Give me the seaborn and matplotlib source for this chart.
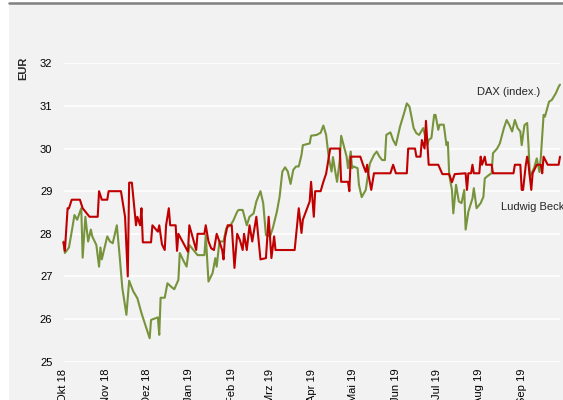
import pandas as pd
import numpy as np
import matplotlib
matplotlib.use("Agg")
import matplotlib.pyplot as plt
from matplotlib.patches import Rectangle
from matplotlib.lines import Line2D
import seaborn as sns

# Tage seit 1. Okt 2018 und Kurse (EUR)
start = pd.Timestamp("2018-10-01")

beck_days = [0, 1, 3, 4, 6, 12, 14, 19, 25, 26, 28, 32, 33, 42, 45, 47, 48, 50, 53, 54,
             56, 57, 58, 64, 65, 69, 70, 72, 74, 75, 77, 78, 82, 83, 84, 87, 91, 92, 94, 97,
             98, 103, 104, 106, 108, 110, 112, 114, 116, 117, 118, 120, 123, 125, 127, 129, 131, 132, 134, 136,
             138, 140, 141, 144, 148, 150, 152, 154, 155, 169, 172, 174, 175, 180, 181, 183, 184, 188, 190, 192,
             195, 202, 203, 208, 209, 210, 217, 219, 221, 222, 223, 225, 227, 239, 241, 243, 251, 252, 257, 258,
             261, 262, 264, 265, 267, 274, 277, 282, 284, 286, 294, 295, 296, 298, 299, 300, 304, 305, 306, 308,
             309, 313, 314, 329, 330, 334, 335, 336, 338, 339, 340, 342, 343, 346, 349, 350, 351, 354, 362, 363]
beck_values = [27.8, 27.6, 28.6, 28.6, 28.8, 28.8, 28.6, 28.4, 28.4, 29.0, 28.8, 28.8, 29.0, 29.0, 28.4, 27.0, 29.2, 29.2, 28.2, 28.4,
               28.2, 28.6, 27.8, 27.8, 28.2, 28.05, 28.2, 27.75, 27.62, 28.2, 28.6, 28.2, 28.2, 27.6, 28.0, 27.82, 27.58, 28.2, 27.97, 27.62,
               28.0, 28.0, 28.2, 27.82, 27.66, 27.62, 28.0, 27.82, 27.62, 27.4, 27.9, 28.2, 28.2, 27.2, 28.0, 27.85, 27.62, 28.0, 27.62, 28.2,
               27.82, 28.2, 28.4, 27.4, 27.43, 28.4, 27.43, 27.94, 27.62, 27.62, 28.6, 28.02, 28.33, 28.76, 29.22, 28.4, 29.0, 29.0, 29.22, 29.41,
               30.0, 30.0, 29.22, 29.22, 29.0, 29.81, 29.81, 29.62, 29.45, 29.62, 29.38, 29.03, 29.42, 29.42, 29.62, 29.42, 29.42, 30.0, 30.0, 29.81,
               29.81, 30.2, 30.0, 30.65, 29.62, 29.62, 29.4, 29.4, 29.21, 29.4, 29.42, 29.03, 29.42, 29.42, 29.62, 29.42, 29.42, 29.81, 29.62, 29.81,
               29.62, 29.62, 29.42, 29.42, 29.62, 29.62, 29.03, 29.03, 29.62, 29.81, 29.62, 29.03, 29.42, 29.62, 29.62, 29.42, 29.81, 29.62, 29.62, 29.81]

dax_days = [0, 1, 4, 6, 8, 10, 13, 14, 16, 18, 20, 21, 24, 26, 27, 28, 32, 34, 36, 39,
            41, 43, 46, 48, 51, 54, 57, 63, 64, 69, 70, 71, 74, 76, 79, 81, 84, 85, 88, 90,
            92, 95, 98, 103, 104, 106, 109, 111, 112, 114, 117, 119, 122, 124, 127, 128, 131, 134, 136, 139,
            141, 144, 146, 148, 151, 153, 156, 158, 160, 162, 164, 166, 168, 170, 172, 174, 175, 180, 181, 185,
            188, 190, 192, 194, 196, 197, 199, 200, 202, 203, 205, 207, 208, 210, 211, 212, 215, 216, 218, 221,
            223, 224, 227, 229, 231, 233, 235, 236, 239, 241, 243, 246, 249, 251, 253, 256, 258, 260, 263, 266,
            267, 269, 271, 272, 274, 275, 278, 280, 281, 282, 284, 285, 287, 289, 291, 293, 294, 296, 299, 300,
            302, 305, 307, 308, 311, 313, 314, 317, 319, 322, 324, 326, 328, 330, 332, 334, 335, 337, 339, 340,
            341, 344, 346, 348, 349, 351, 352, 355, 357, 360, 362, 363]
dax_values = [27.82, 27.55, 27.68, 28.05, 28.44, 28.33, 28.6, 27.44, 28.4, 27.82, 28.1, 27.94, 27.74, 27.23, 27.68, 27.4, 27.94, 27.82, 27.78, 28.2,
              27.5, 26.73, 26.1, 26.9, 26.65, 26.49, 26.14, 25.55, 25.98, 26.04, 25.63, 26.5, 26.5, 26.84, 26.75, 26.7, 26.92, 27.55, 27.35, 27.23,
              27.74, 27.62, 27.5, 27.5, 27.97, 26.88, 27.08, 27.43, 27.23, 27.82, 27.82, 28.13, 28.2, 28.3, 28.52, 28.56, 28.56, 28.2, 28.4, 28.48,
              28.76, 29.0, 28.72, 27.97, 27.94, 28.13, 28.52, 28.87, 29.46, 29.56, 29.46, 29.17, 29.5, 29.58, 29.58, 29.85, 30.08, 30.12, 30.3, 30.32,
              30.37, 30.54, 30.32, 29.77, 29.46, 29.8, 29.4, 29.22, 29.73, 30.3, 30.05, 29.81, 29.54, 29.93, 29.54, 29.58, 29.54, 29.15, 28.86, 29.03,
              29.46, 29.65, 29.85, 29.93, 29.81, 29.73, 29.73, 30.32, 30.38, 30.2, 30.08, 30.51, 30.83, 31.06, 30.98, 30.48, 30.36, 30.32, 30.48, 30.08,
              30.2, 30.25, 30.79, 30.79, 30.44, 30.56, 30.56, 30.08, 30.15, 29.38, 29.03, 28.48, 29.15, 28.76, 28.72, 29.03, 28.1, 28.52, 28.83, 29.07,
              28.6, 28.72, 28.87, 29.3, 29.38, 29.42, 29.89, 30.0, 30.12, 30.48, 30.67, 30.55, 30.4, 30.67, 30.48, 30.4, 30.08, 30.55, 30.6, 30.05,
              29.34, 29.54, 29.77, 29.45, 29.8, 30.79, 30.75, 31.1, 31.14, 31.3, 31.45, 31.5]

month_labels = ["Okt 18", "Nov 18", "Dez 18", "Jan 19", "Feb 19", "Mrz 19",
                "Apr 19", "Mai 19", "Jun 19", "Jul 19", "Aug 19", "Sep 19"]
y_ticks = [25, 26, 27, 28, 29, 30, 31, 32]

df = pd.concat([
    pd.DataFrame({"Datum": start + pd.to_timedelta(beck_days, unit="D"),
                  "Kurs": beck_values, "Serie": "Ludwig Beck"}),
    pd.DataFrame({"Datum": start + pd.to_timedelta(dax_days, unit="D"),
                  "Kurs": dax_values, "Serie": "DAX (index.)"}),
])

gris = "#f2f2f2"
sns.set_style("whitegrid", {"axes.facecolor": gris, "grid.color": "white",
                            "axes.edgecolor": gris})
plt.rcParams["font.family"] = ["Liberation Sans", "DejaVu Sans"]

fig = plt.figure(figsize=(5.63, 4.0), dpi=100)
fig.patches.append(Rectangle((9 / 563, 0), 1, 1 - 4 / 400, transform=fig.transFigure,
                             facecolor=gris, edgecolor="none", zorder=-2))
fig.lines.append(Line2D([9 / 563, 1], [1 - 2.8 / 400] * 2, transform=fig.transFigure,
                        color="#808080", lw=1.8))

ax = fig.add_axes([63.5 / 563, 1 - 361.7 / 400, (560 - 63.5) / 563, (361.7 - 63.3) / 400])
sns.lineplot(data=df, x="Datum", y="Kurs", hue="Serie", estimator=None, ax=ax,
             palette={"Ludwig Beck": "#c00000", "DAX (index.)": "#77933c"},
             hue_order=["DAX (index.)", "Ludwig Beck"], linewidth=1.5, legend=False)
for l in ax.lines:
    l.set_clip_on(False)

ax.set_ylim(25, 32)
ax.set_xlim(start, start + pd.Timedelta(days=363))
ax.set_yticks(y_ticks)
ax.set_xticks(pd.date_range(start, periods=12, freq="MS"))
ax.set_xticklabels(month_labels, rotation=90, va="top")
ax.grid(axis="x", visible=False)
ax.grid(axis="y", color="white", lw=1.2)
ax.tick_params(axis="y", labelsize=8, pad=8, length=0, colors="#000000")
ax.tick_params(axis="x", labelsize=8, pad=5, length=0, colors="#000000")
ax.set_xlabel("")
ax.set_ylabel("")
for s in ax.spines.values():
    s.set_visible(False)

fig.text(23 / 563, 1 - 57 / 400, "EUR", rotation=90, va="top", ha="center",
         fontsize=8, fontweight="bold")
ax.text(start + pd.Timedelta(days=302), 31.33, "DAX (index.)", fontsize=8, va="center", ha="left")
ax.text(start + pd.Timedelta(days=320), 28.63, "Ludwig Beck", fontsize=8, va="center", ha="left",
        clip_on=False)

fig.savefig("out.png", dpi=100)
